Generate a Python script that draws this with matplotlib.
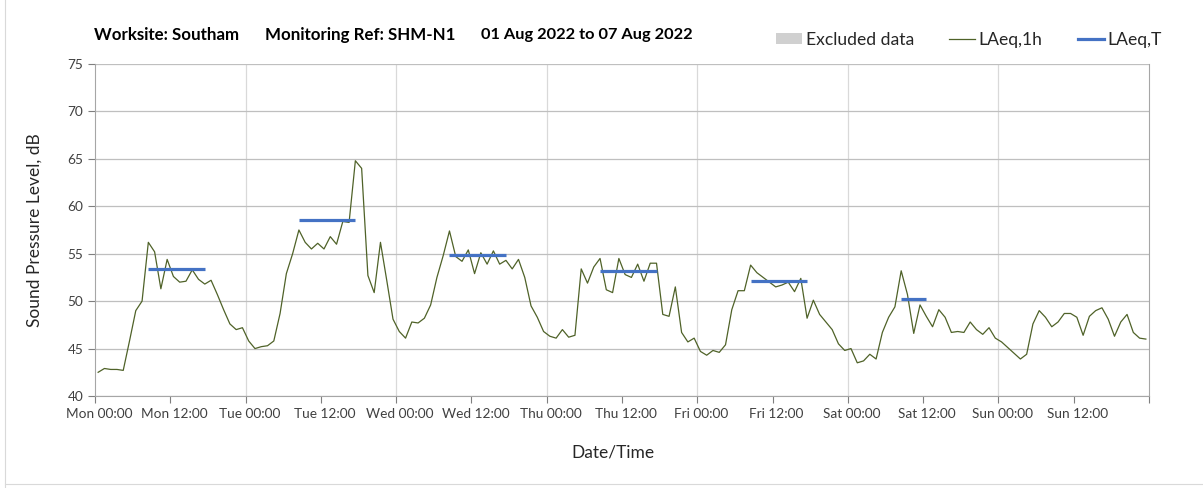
import numpy as np
import matplotlib
matplotlib.use("Agg")
import matplotlib.pyplot as plt
from matplotlib.patches import Patch
from matplotlib.lines import Line2D
from matplotlib.transforms import ScaledTranslation

plt.rcParams['font.family'] = ['Lato', 'DejaVu Sans']

# hourly LAeq,1h readings, Mon 00:00 .. Sun 23:00
laeq_1h = [
    # Mon
    42.5, 42.9, 42.8, 42.8, 42.7, 45.8, 49.0, 50.0, 56.2, 55.2, 51.3, 54.4,
    52.6, 52.0, 52.1, 53.3, 52.3, 51.8, 52.2, 50.7, 49.1, 47.6, 47.0, 47.2,
    # Tue
    45.8, 45.0, 45.2, 45.3, 45.8, 48.7, 52.9, 55.0, 57.5, 56.2, 55.5, 56.1,
    55.5, 56.8, 56.0, 58.4, 58.3, 64.8, 64.0, 52.7, 50.9, 56.2, 52.2, 48.1,
    # Wed
    46.8, 46.1, 47.8, 47.7, 48.2, 49.6, 52.5, 54.8, 57.4, 54.7, 54.2, 55.4,
    52.9, 55.1, 53.9, 55.3, 53.9, 54.3, 53.4, 54.4, 52.5, 49.5, 48.3, 46.8,
    # Thu
    46.3, 46.1, 47.0, 46.2, 46.4, 53.4, 51.9, 53.6, 54.5, 51.2, 50.9, 54.5,
    52.8, 52.5, 53.9, 52.1, 54.0, 54.0, 48.6, 48.4, 51.5, 46.7, 45.7, 46.1,
    # Fri
    44.7, 44.3, 44.8, 44.6, 45.4, 49.1, 51.1, 51.1, 53.8, 53.0, 52.5, 52.0,
    51.5, 51.7, 52.0, 51.0, 52.4, 48.2, 50.1, 48.6, 47.8, 47.0, 45.5, 44.8,
    # Sat
    45.0, 43.5, 43.7, 44.4, 43.9, 46.7, 48.3, 49.4, 53.2, 50.7, 46.6, 49.6,
    48.4, 47.3, 49.1, 48.3, 46.7, 46.8, 46.7, 47.8, 47.0, 46.5, 47.2, 46.1,
    # Sun
    45.7, 45.1, 44.5, 43.9, 44.4, 47.6, 49.0, 48.3, 47.3, 47.8, 48.7, 48.7,
    48.3, 46.4, 48.4, 49.0, 49.3, 48.1, 46.3, 47.8, 48.6, 46.7, 46.1, 46.0,
]

# working period LAeq,T (day index, start hour, end hour, level)
period_day = [0, 1, 2, 3, 4, 5]
period_start = [8, 8, 8, 8, 8, 8]
period_end = [18, 18, 18, 18, 18, 13]
laeq_t = [53.4, 58.6, 54.9, 53.2, 52.1, 50.2]

days = ['Mon', 'Tue', 'Wed', 'Thu', 'Fri', 'Sat', 'Sun']
tick_labels = [f"{d} {t}" for d in days for t in ('00:00', '12:00')]

green = '#4f6228'
blue = '#4472c4'

fig = plt.figure(figsize=(12.03, 4.88), dpi=100)
ax = fig.add_axes([95 / 1203, 1 - 396 / 488, (1149 - 95) / 1203, (396 - 64) / 488])

hours = np.arange(len(laeq_1h)) + 0.5
ax.plot(hours, laeq_1h, color=green, lw=0.9, zorder=3)

for d, s, e, v in zip(period_day, period_start, period_end, laeq_t):
    ax.plot([d * 24 + s + 0.5, d * 24 + e - 0.5], [v, v], color=blue, lw=2.3,
            solid_capstyle='butt', zorder=4)

ax.set_xlim(0, 168)
ax.set_ylim(40, 75)
ax.set_yticks(np.arange(40, 76, 5))
ax.set_xticks(np.arange(0, 169, 12))
ax.set_xticklabels(tick_labels + [''])
ax.tick_params(axis='both', labelsize=9.8, colors='#7f7f7f', labelcolor='#404040',
               length=5, width=0.8)
# labels sit a few px right of their ticks, as in the original
shift = ScaledTranslation(4 / 100, 0, fig.dpi_scale_trans)
for lbl in ax.get_xticklabels():
    lbl.set_transform(lbl.get_transform() + shift)

ax.yaxis.grid(True, color='#bfbfbf', lw=0.9)
for x in range(24, 168, 24):
    ax.axvline(x, color='#d9d9d9', lw=0.9, zorder=0)
ax.set_axisbelow(True)
for side in ['left', 'bottom', 'right']:
    ax.spines[side].set_color('#a6a6a6')
ax.spines['top'].set_visible(False)

fig.text(35 / 1203, 1 - 230 / 488, 'Sound Pressure Level, dB', rotation=90,
         ha='center', va='center', fontsize=12.5, color='#262626')
fig.text(613 / 1203, 1 - 453 / 488, 'Date/Time', ha='center', va='center',
         fontsize=12.5, color='#262626')

ty = 1 - 35 / 488
fig.text(94 / 1203, ty, 'Worksite: Southam', fontweight='bold', fontsize=12.2, va='center')
fig.text(265 / 1203, ty, 'Monitoring Ref: SHM-N1', fontweight='bold', fontsize=12.2, va='center')
fig.text(481 / 1203, ty, '01 Aug 2022 to 07 Aug 2022', fontweight='bold', fontsize=11.8, va='center')

handles = [Patch(facecolor='#d0d0d0', edgecolor='none', label='Excluded data'),
           Line2D([], [], color=green, lw=0.9, label='LAeq,1h'),
           Line2D([], [], color=blue, lw=2.3, label='LAeq,T')]
fig.legend(handles=handles, loc='center right', bbox_to_anchor=(0.973, 1 - 40 / 488),
           ncol=3, frameon=False, fontsize=12.6, handlelength=1.5, handleheight=0.6,
           handletextpad=0.2, columnspacing=2.0, borderpad=0, labelcolor='#262626')

# faint chart border
fig.add_artist(Line2D([5 / 1203, 5 / 1203], [0, 1], color='#d9d9d9', lw=0.8))
fig.add_artist(Line2D([5 / 1203, 1], [1 - 484 / 488, 1 - 484 / 488], color='#d9d9d9', lw=0.8))

fig.savefig('out.png', dpi=100)
